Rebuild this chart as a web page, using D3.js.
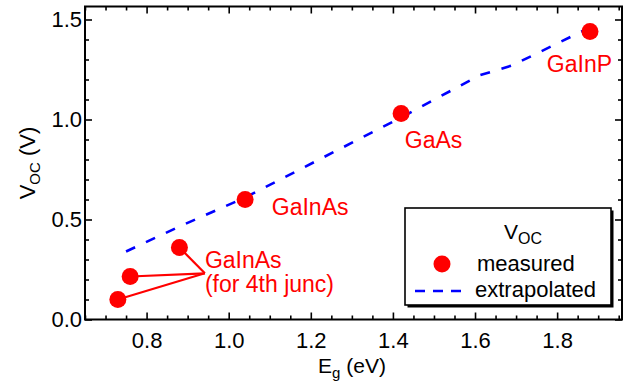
<!DOCTYPE html>
<html><head><meta charset="utf-8">
<script src="https://cdn.jsdelivr.net/npm/d3@7"></script>
<style>body{margin:0;background:#fff}svg{display:block}text{font-family:"Liberation Sans",Arial,sans-serif}</style>
</head><body>
<svg id="c" width="633" height="383"></svg>
<script>
// measured points
const measuredEg = [0.73, 0.76, 0.88, 1.04, 1.42, 1.88];
const measuredVoc = [0.10, 0.215, 0.36, 0.60, 1.03, 1.44];
// extrapolated curve
const extrapEg = [0.75, 0.88, 1.04, 1.42, 1.61, 1.69, 1.87];
const extrapVoc = [0.34, 0.465, 0.61, 1.01, 1.22, 1.27, 1.45];
// point labels (anchored at text start, baseline)
const labelText = ["GaInP", "GaAs", "GaInAs", "GaInAs", "(for 4th junc)"];
const labelEg = [1.775, 1.429, 1.105, 0.942, 0.942];
const labelVoc = [1.237, 0.857, 0.522, 0.257, 0.137];
// leader lines to 4th-junction points
const leaderTarget = [0.942, 0.231];
const leaderIdx = [0, 1, 2];
// ticks
const xMajor = [0.8, 1.0, 1.2, 1.4, 1.6, 1.8];
const yMajor = [0.0, 0.5, 1.0, 1.5];

const svg = d3.select("#c");
const L = 85, R = 622, T = 6.5, B = 319.5;
const x = d3.scaleLinear().domain([0.65, 1.958]).range([L, R]);
const y = d3.scaleLinear().domain([0, 1.565]).range([B, T]);
const red = "#ff0000", blue = "#0000ff";

const xMinor = d3.range(0.65, 1.96, 0.05).map(v => +v.toFixed(2)).filter(v => !xMajor.some(m => Math.abs(m - v) < 1e-6));
const yMinor = d3.range(0.1, 1.56, 0.1).map(v => +v.toFixed(2)).filter(v => !yMajor.some(m => Math.abs(m - v) < 1e-6));

function tickAxis(axisFn, scale, vals, len, pos) {
  const g = svg.append("g").attr("transform", pos);
  g.call(axisFn(scale).tickValues(vals).tickSizeInner(len).tickSizeOuter(0).tickFormat(""));
  g.select(".domain").remove();
  g.selectAll(".tick line").attr("stroke", "#000").attr("stroke-width", 1.6);
  return g;
}
// bottom
tickAxis(d3.axisTop, x, xMajor, 7, `translate(0,${B})`);
tickAxis(d3.axisTop, x, xMinor, 4, `translate(0,${B})`);
const gb = svg.append("g").attr("transform", `translate(0,${B})`)
  .call(d3.axisBottom(x).tickValues(xMajor).tickSize(0).tickPadding(13).tickFormat(d3.format(".1f")));
gb.select(".domain").remove();
gb.selectAll("text").attr("font-size", 22).attr("fill", "#000");
// top
tickAxis(d3.axisBottom, x, xMajor, 7, `translate(0,${T})`);
tickAxis(d3.axisBottom, x, xMinor, 4, `translate(0,${T})`);
// left
tickAxis(d3.axisRight, y, yMajor, 7, `translate(${L},0)`);
tickAxis(d3.axisRight, y, yMinor, 4, `translate(${L},0)`);
const gl = svg.append("g").attr("transform", `translate(${L},0)`)
  .call(d3.axisLeft(y).tickValues(yMajor).tickSize(0).tickPadding(3).tickFormat(d3.format(".1f")));
gl.select(".domain").remove();
gl.selectAll("text").attr("font-size", 22).attr("fill", "#000");
// right
tickAxis(d3.axisLeft, y, yMajor, 7, `translate(${R},0)`);
tickAxis(d3.axisLeft, y, yMinor, 4, `translate(${R},0)`);

svg.append("rect").attr("x", L).attr("y", T).attr("width", R - L).attr("height", B - T)
  .attr("fill", "none").attr("stroke", "#000").attr("stroke-width", 2);

// extrapolated dashed line
const ext = extrapEg.map((e, i) => [e, extrapVoc[i]]);
svg.append("path").datum(ext)
  .attr("d", d3.line().x(d => x(d[0])).y(d => y(d[1])))
  .attr("fill", "none").attr("stroke", blue).attr("stroke-width", 2.6)
  .attr("stroke-dasharray", "10,12");

// leader lines
leaderIdx.forEach(i => {
  svg.append("line")
    .attr("x1", x(measuredEg[i])).attr("y1", y(measuredVoc[i]))
    .attr("x2", x(leaderTarget[0])).attr("y2", y(leaderTarget[1]))
    .attr("stroke", red).attr("stroke-width", 2.2);
});

// measured points
svg.selectAll("circle.m").data(measuredEg).enter().append("circle")
  .attr("class", "m").attr("cx", d => x(d)).attr("cy", (d, i) => y(measuredVoc[i]))
  .attr("r", 8.5).attr("fill", red);

// labels
labelText.forEach((t, i) => {
  svg.append("text").attr("x", x(labelEg[i])).attr("y", y(labelVoc[i]))
    .attr("font-size", 23).attr("fill", red).text(t);
});

// axis titles
const xt = svg.append("text").attr("x", 352).attr("y", 373).attr("text-anchor", "middle")
  .attr("font-size", 21).attr("fill", "#000");
xt.append("tspan").text("E");
xt.append("tspan").attr("font-size", 15).attr("dy", 5).text("g");
xt.append("tspan").attr("dy", -5).text(" (eV)");

const yt = svg.append("text").attr("transform", `translate(35,163) rotate(-90)`).attr("text-anchor", "middle")
  .attr("font-size", 22).attr("fill", "#000");
yt.append("tspan").text("V");
yt.append("tspan").attr("font-size", 15).attr("dy", 5).text("OC");
yt.append("tspan").attr("dy", -5).text(" (V)");

// legend
const lg = svg.append("g");
lg.append("rect").attr("x", 407.5).attr("y", 210.5).attr("width", 206).attr("height", 97).attr("fill", "#000");
lg.append("rect").attr("x", 405).attr("y", 208).attr("width", 206).attr("height", 97)
  .attr("fill", "#fff").attr("stroke", "#000").attr("stroke-width", 1.6);
const lt = lg.append("text").attr("x", 504).attr("y", 239).attr("font-size", 21).attr("fill", "#000");
lt.append("tspan").text("V");
lt.append("tspan").attr("font-size", 16).attr("dy", 5).text("OC");
lg.append("circle").attr("cx", 442).attr("cy", 264).attr("r", 8.5).attr("fill", red);
lg.append("text").attr("x", 477).attr("y", 271).attr("font-size", 22).attr("fill", "#000").text("measured");
lg.append("line").attr("x1", 415).attr("x2", 462).attr("y1", 291).attr("y2", 291)
  .attr("stroke", blue).attr("stroke-width", 2.6).attr("stroke-dasharray", "10,8");
lg.append("text").attr("x", 475).attr("y", 297).attr("font-size", 22).attr("fill", "#000").text("extrapolated");
</script>
</body></html>
